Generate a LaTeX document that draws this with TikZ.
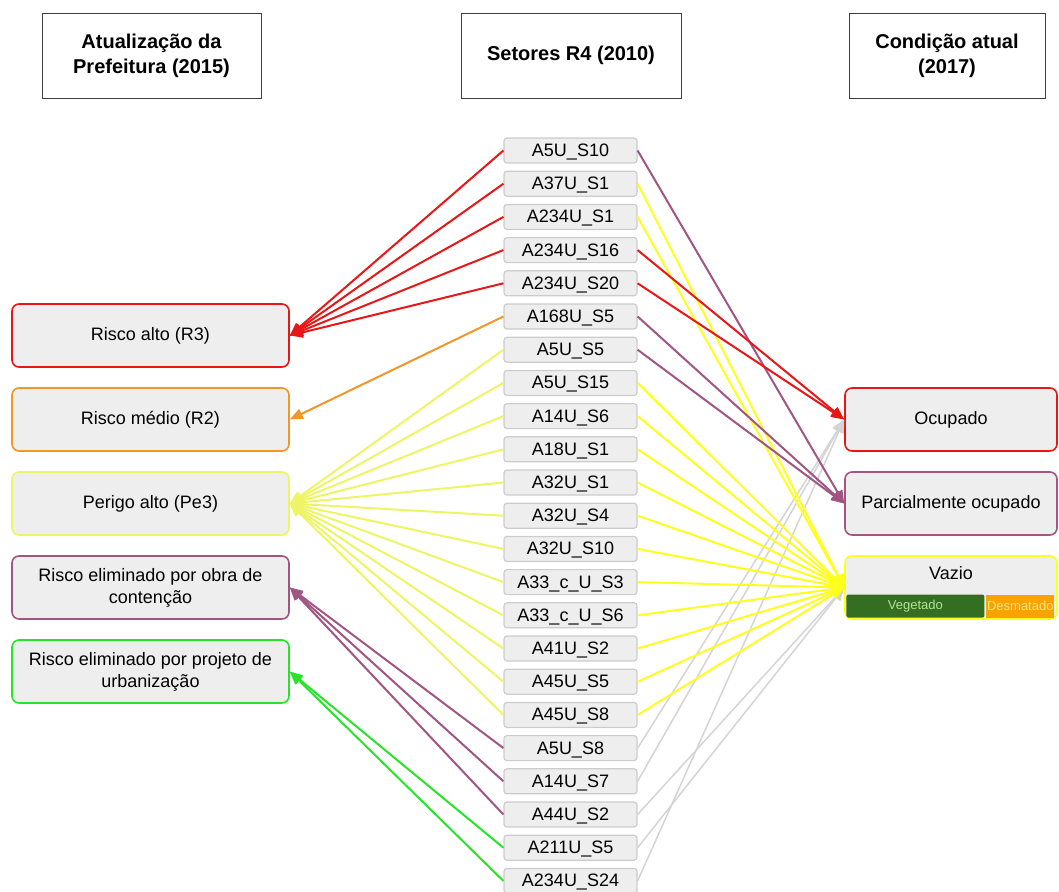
\documentclass[tikz,border=0pt]{standalone}
\usepackage{fontspec}
\setmainfont{Liberation Sans}
\usepackage{tikz}
\usetikzlibrary{arrows.meta, positioning}

\definecolor{boxgray}{RGB}{238,238,238}
\definecolor{edgegray}{RGB}{204,204,204}
\definecolor{lingray}{RGB}{212,212,212}
\definecolor{rred}{RGB}{232,22,22}
\definecolor{rorange}{RGB}{242,150,40}
\definecolor{ryellow}{RGB}{238,245,100}
\definecolor{vyellow}{RGB}{255,255,30}
\definecolor{rpurple}{RGB}{160,85,130}
\definecolor{rgreen}{RGB}{40,228,40}
\definecolor{vegdark}{RGB}{52,110,32}
\definecolor{veglight}{RGB}{175,230,150}
\definecolor{desorange}{RGB}{250,162,0}
\definecolor{deslight}{RGB}{255,228,120}

\begin{document}
\begin{tikzpicture}[
            x=1pt, y=-1pt,
            font=\fontsize{18}{22}\selectfont,
            node distance=7pt,
            header/.style={rectangle, draw=black!75, line width=0.8pt, fill=white,
                           minimum height=85pt, align=center,
                           font=\fontsize{20}{25}\selectfont\bfseries},
            setor/.style ={rectangle, rounded corners=3pt, draw=edgegray, line width=1.2pt,
                           fill=boxgray, minimum width=133pt, minimum height=25pt, inner sep=2pt,
                           text height=13pt, text depth=1pt},
            risco/.style ={rectangle, rounded corners=7pt, line width=1.6pt, fill=boxgray,
                           minimum width=277pt, minimum height=63pt, align=center},
            estado/.style={rectangle, rounded corners=7pt, line width=1.6pt, fill=boxgray,
                           minimum width=212pt, minimum height=63pt, align=center},
            faixa/.style ={rectangle, minimum height=23pt, inner sep=0pt,
                           font=\fontsize{13}{14}\selectfont},
            arrow/.style ={-{Triangle[length=13pt, width=10.5pt]}, line width=2pt},
            grayarrow/.style={-{Triangle[length=13pt, width=10.5pt]}, line width=1.5pt, color=lingray}
        ]
        \useasboundingbox (0,0) rectangle (1059,891);

        % cabecalhos
        \node[header, minimum width=219pt] (hprefeitura) at (151.5,55.5) {Atualização da\\Prefeitura (2015)};
        \node[header, minimum width=220pt] (hsetores)    at (571,55.5)   {Setores R4 (2010)};
        \node[header, minimum width=196pt] (hcondicao)   at (947,55.5)   {Condição atual\\(2017)};

        % setores R4
        \node[setor] (a5s10) at (570.5,150.5) {A5U\_S10};
        \node[setor, below=of a5s10]   (a37s1)   {A37U\_S1};
        \node[setor, below=of a37s1]   (a234s1)  {A234U\_S1};
        \node[setor, below=of a234s1]  (a234s16) {A234U\_S16};
        \node[setor, below=of a234s16] (a234s20) {A234U\_S20};
        \node[setor, below=of a234s20] (a168s5)  {A168U\_S5};
        \node[setor, below=of a168s5]  (a5s5)    {A5U\_S5};
        \node[setor, below=of a5s5]    (a5s15)   {A5U\_S15};
        \node[setor, below=of a5s15]   (a14s6)   {A14U\_S6};
        \node[setor, below=of a14s6]   (a18s1)   {A18U\_S1};
        \node[setor, below=of a18s1]   (a32s1)   {A32U\_S1};
        \node[setor, below=of a32s1]   (a32s4)   {A32U\_S4};
        \node[setor, below=of a32s4]   (a32s10)  {A32U\_S10};
        \node[setor, below=of a32s10]  (a33s3)   {A33\_c\_U\_S3};
        \node[setor, below=of a33s3]   (a33s6)   {A33\_c\_U\_S6};
        \node[setor, below=of a33s6]   (a41s2)   {A41U\_S2};
        \node[setor, below=of a41s2]   (a45s5)   {A45U\_S5};
        \node[setor, below=of a45s5]   (a45s8)   {A45U\_S8};
        \node[setor, below=of a45s8]   (a5s8)    {A5U\_S8};
        \node[setor, below=of a5s8]    (a14s7)   {A14U\_S7};
        \node[setor, below=of a14s7]   (a44s2)   {A44U\_S2};
        \node[setor, below=of a44s2]   (a211s5)  {A211U\_S5};
        \node[setor, below=of a211s5]  (a234s24) {A234U\_S24};

        % atualizacao da prefeitura
        \node[risco, draw=rred] (r3) at (150.5,335.5) {Risco alto (R3)};
        \node[risco, draw=rorange, below=19.4pt of r3] (r2)   {Risco médio (R2)};
        \node[risco, draw=ryellow, below=19.4pt of r2] (pe3)  {Perigo alto (Pe3)};
        \node[risco, draw=rpurple, below=19.4pt of pe3] (obra) {Risco eliminado por obra de\\contenção};
        \node[risco, draw=rgreen, below=19.4pt of obra] (urb)  {Risco eliminado por projeto de\\urbanização};

        % condicao atual
        \node[estado, draw=rred] (ocupado) at (951,419.5) {Ocupado};
        \node[estado, draw=rpurple, below=19.4pt of ocupado] (parcial) {Parcialmente ocupado};
        \node[estado, draw=vyellow, below=19.4pt of parcial, inner sep=6pt,
              text height=17pt, text depth=34pt] (vazio) {Vazio};
        \node[faixa, fill=vegdark, text=veglight, rounded corners=2pt, minimum width=138pt,
              anchor=south west, xshift=2pt, yshift=2pt] (veg) at (vazio.south west) {Vegetado};
        \node[faixa, fill=desorange, text=deslight, minimum width=68pt, right=1.5pt of veg] (desm) {Desmatado};

        % ligacoes a esquerda
        \draw[arrow, rred] (a5s10.west)   -- (r3.east);
        \draw[arrow, rred] (a37s1.west)   -- (r3.east);
        \draw[arrow, rred] (a234s1.west)  -- (r3.east);
        \draw[arrow, rred] (a234s16.west) -- (r3.east);
        \draw[arrow, rred] (a234s20.west) -- (r3.east);
        \draw[arrow, rorange] (a168s5.west) -- (r2.east);
        \draw[arrow, ryellow] (a5s5.west)   -- (pe3.east);
        \draw[arrow, ryellow] (a5s15.west)  -- (pe3.east);
        \draw[arrow, ryellow] (a14s6.west)  -- (pe3.east);
        \draw[arrow, ryellow] (a18s1.west)  -- (pe3.east);
        \draw[arrow, ryellow] (a32s1.west)  -- (pe3.east);
        \draw[arrow, ryellow] (a32s4.west)  -- (pe3.east);
        \draw[arrow, ryellow] (a32s10.west) -- (pe3.east);
        \draw[arrow, ryellow] (a33s3.west)  -- (pe3.east);
        \draw[arrow, ryellow] (a33s6.west)  -- (pe3.east);
        \draw[arrow, ryellow] (a41s2.west)  -- (pe3.east);
        \draw[arrow, ryellow] (a45s5.west)  -- (pe3.east);
        \draw[arrow, ryellow] (a45s8.west)  -- (pe3.east);
        \draw[arrow, rpurple] (a5s8.west)   -- (obra.east);
        \draw[arrow, rpurple] (a14s7.west)  -- (obra.east);
        \draw[arrow, rpurple] (a44s2.west)  -- (obra.east);
        \draw[arrow, rgreen] (a211s5.west)  -- (urb.east);
        \draw[arrow, rgreen] (a234s24.west) -- (urb.east);

        % ligacoes a direita
        \draw[grayarrow] (a5s8.east)    -- (ocupado.west);
        \draw[grayarrow] (a14s7.east)   -- (ocupado.west);
        \draw[grayarrow] (a234s24.east) -- (ocupado.west);
        \draw[grayarrow] (a44s2.east)   -- (vazio.west);
        \draw[grayarrow] (a211s5.east)  -- (vazio.west);
        \draw[arrow, vyellow] (a37s1.east)  -- (vazio.west);
        \draw[arrow, vyellow] (a234s1.east) -- (vazio.west);
        \draw[arrow, vyellow] (a5s15.east)  -- (vazio.west);
        \draw[arrow, vyellow] (a14s6.east)  -- (vazio.west);
        \draw[arrow, vyellow] (a18s1.east)  -- (vazio.west);
        \draw[arrow, vyellow] (a32s1.east)  -- (vazio.west);
        \draw[arrow, vyellow] (a32s4.east)  -- (vazio.west);
        \draw[arrow, vyellow] (a32s10.east) -- (vazio.west);
        \draw[arrow, vyellow] (a33s3.east)  -- (vazio.west);
        \draw[arrow, vyellow] (a33s6.east)  -- (vazio.west);
        \draw[arrow, vyellow] (a41s2.east)  -- (vazio.west);
        \draw[arrow, vyellow] (a45s5.east)  -- (vazio.west);
        \draw[arrow, vyellow] (a45s8.east)  -- (vazio.west);
        \draw[arrow, rpurple] (a5s10.east)  -- (parcial.west);
        \draw[arrow, rpurple] (a168s5.east) -- (parcial.west);
        \draw[arrow, rpurple] (a5s5.east)   -- (parcial.west);
        \draw[arrow, rred] (a234s16.east) -- (ocupado.west);
        \draw[arrow, rred] (a234s20.east) -- (ocupado.west);
        \end{tikzpicture}
\end{document}
